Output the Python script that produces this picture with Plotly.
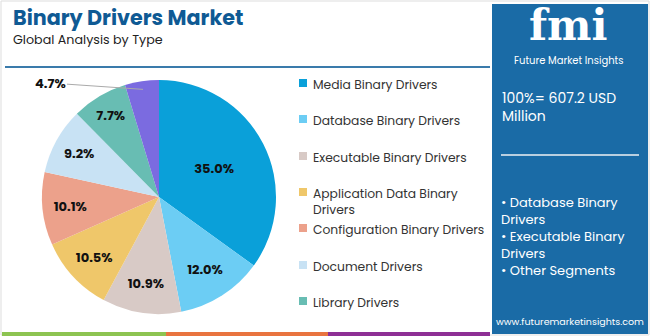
import math
import plotly.graph_objects as go

categories = ["Media Binary Drivers", "Database Binary Drivers", "Executable Binary Drivers",
              "Application Data Binary Drivers", "Configuration Binary Drivers",
              "Document Drivers", "Library Drivers", "Others"]
values = [35.0, 12.0, 10.9, 10.5, 10.1, 9.2, 7.7, 4.7]
colors = ["#0aa0d9", "#6ccdf4", "#d8cac6", "#efc76a", "#eca18b", "#c8e2f4", "#68bdb3", "#7b6be0"]
legend_labels = ["Media Binary Drivers", "Database Binary Drivers", "Executable Binary Drivers",
                 "Application Data Binary<br>Drivers", "Configuration Binary Drivers",
                 "Document Drivers", "Library Drivers"]
panel_bullets = ["• Database Binary", "Drivers", "• Executable Binary", "Drivers", "• Other Segments"]
total_lines = ["100%= 607.2 USD", "Million"]

W, H = 650, 336
FONT = "Poppins, Inter, Open Sans, sans-serif"

def px(x):
    return x / W

def py(y):
    return 1 - y / H

fig = go.Figure()
texts = [f"<b>{v:.1f}%</b>" for v in values[:-1]] + [""]
fig.add_trace(go.Pie(
    labels=categories, values=values, sort=False, direction="clockwise", rotation=0,
    marker=dict(colors=colors, line=dict(color="white", width=0)),
    text=texts, textinfo="text", textposition="inside",
    insidetextorientation="horizontal",
    textfont=dict(family=FONT, size=13, color="#111"),
    domain=dict(x=[px(20), px(298)], y=[py(314), py(80)]),
    showlegend=False, hoverinfo="label+percent",
))

shapes = []
annotations = []

# small-slice outside label with leader line
cx, cy, r = 159, 197, 117
total = sum(values)
mid = (total - values[-1] / 2) / total * 2 * math.pi
ex, ey = cx + r * 0.93 * math.sin(mid), cy - r * 0.93 * math.cos(mid)
annotations.append(dict(text=f"<b>{values[-1]:.1f}%</b>", x=px(ex), y=py(ey), xref="paper", yref="paper",
                        ax=50 - ex, ay=83 - ey, axref="pixel", ayref="pixel",
                        showarrow=True, arrowhead=0, arrowwidth=1, arrowcolor="#aaaaaa",
                        font=dict(family=FONT, size=13, color="#111")))

# outer border
shapes.append(dict(type="rect", xref="paper", yref="paper", x0=px(1), x1=px(649), y0=py(335), y1=py(1),
                   line=dict(color="#dddddd", width=1), fillcolor="rgba(0,0,0,0)"))
# header line
shapes.append(dict(type="line", xref="paper", yref="paper", x0=px(5), x1=px(490), y0=py(67), y1=py(67),
                   line=dict(color="#3a7bab", width=2)))
# bottom bars
for x0, x1, c in [(2, 166, "#8dc451"), (166, 328, "#e9743f"), (328, 490, "#8e2f95")]:
    shapes.append(dict(type="rect", xref="paper", yref="paper", x0=px(x0), x1=px(x1), y0=py(336), y1=py(332),
                       line=dict(width=0), fillcolor=c))
# right panel
shapes.append(dict(type="rect", xref="paper", yref="paper", x0=px(492), x1=px(648), y0=py(334), y1=py(4),
                   line=dict(width=0), fillcolor="#1a6ba6"))
shapes.append(dict(type="line", xref="paper", yref="paper", x0=px(501), x1=px(639), y0=py(155), y1=py(155),
                   line=dict(color="#b9cfe0", width=2)))

# title
annotations.append(dict(text="<b>Binary Drivers Market</b>", x=px(11), y=py(17), xref="paper", yref="paper",
                        xanchor="left", yanchor="middle", showarrow=False,
                        font=dict(family=FONT, size=20.7, color="#0f5a94")))
annotations.append(dict(text="Global Analysis by Type", x=px(11), y=py(39), xref="paper", yref="paper",
                        xanchor="left", yanchor="middle", showarrow=False,
                        font=dict(family=FONT, size=12.7, color="#222")))

# legend (manual, 7 entries)
leg_y = [83, 119, 156, 192, 228, 265, 301]
for lab, c, y in zip(legend_labels, colors, leg_y):
    shapes.append(dict(type="rect", xref="paper", yref="paper", x0=px(299), x1=px(307), y0=py(y + 4), y1=py(y - 4),
                       line=dict(width=0), fillcolor=c))
    n = lab.count("<br>")
    annotations.append(dict(text=lab, x=px(311), y=py(y - 9), xref="paper", yref="paper", xanchor="left",
                            yanchor="top", align="left", showarrow=False,
                            font=dict(family=FONT, size=12.3, color="#333")))

# panel texts
annotations.append(dict(text="<b>fmi</b>", x=px(568), y=py(26), xref="paper", yref="paper",
                        xanchor="center", yanchor="middle", showarrow=False,
                        font=dict(family="DejaVu Serif, serif", size=42, color="white")))
annotations.append(dict(text="Future Market Insights", x=px(568), y=py(60), xref="paper", yref="paper",
                        xanchor="center", yanchor="middle", showarrow=False,
                        font=dict(family=FONT, size=10, color="white")))
annotations.append(dict(text="<br>".join(total_lines), x=px(500), y=py(86), xref="paper", yref="paper",
                        xanchor="left", yanchor="top", align="left", showarrow=False,
                        font=dict(family=FONT, size=14, color="white")))
annotations.append(dict(text="<br>".join(panel_bullets), x=px(499), y=py(191), xref="paper", yref="paper",
                        xanchor="left", yanchor="top", align="left", showarrow=False,
                        font=dict(family=FONT, size=13, color="white")))
annotations.append(dict(text="www.futuremarketinsights.com", x=px(570), y=py(321), xref="paper", yref="paper",
                        xanchor="center", yanchor="middle", showarrow=False,
                        font=dict(family=FONT, size=9.5, color="white")))

fig.update_layout(width=W, height=H, margin=dict(l=0, r=0, t=0, b=0),
                  paper_bgcolor="white", plot_bgcolor="white",
                  shapes=shapes, annotations=annotations, font=dict(family=FONT))
fig.write_html("out.html")
